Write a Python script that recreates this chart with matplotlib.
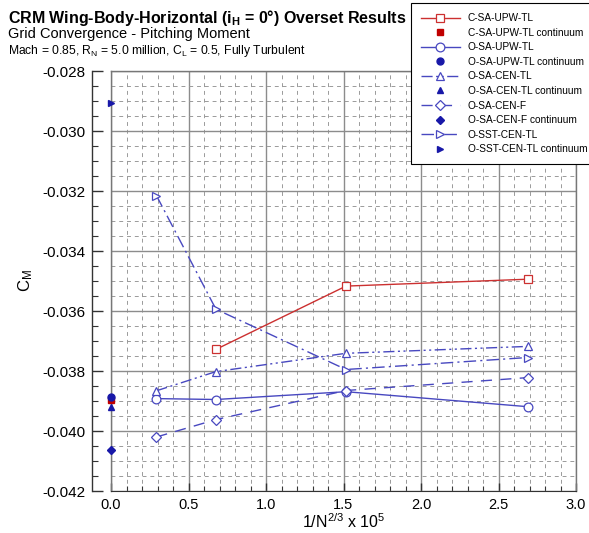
import matplotlib
matplotlib.use("Agg")
import matplotlib.pyplot as plt
from matplotlib.ticker import MultipleLocator, FormatStrFormatter

plt.rcParams['font.family'] = ['Liberation Sans', 'DejaVu Sans']
plt.rcParams['mathtext.fontset'] = 'custom'
plt.rcParams['mathtext.rm'] = 'Liberation Sans'
plt.rcParams['mathtext.it'] = 'Liberation Sans:italic'
plt.rcParams['mathtext.bf'] = 'Liberation Sans:bold'

# ---- data ----
x_c = [0.677, 1.516, 2.69]
y_c_sa_upw_tl = [-0.03728, -0.03517, -0.03494]
x_o = [0.293, 0.677, 1.516, 2.69]
y_o_sa_upw_tl = [-0.03892, -0.03895, -0.03869, -0.03919]
y_o_sa_cen_tl = [-0.03866, -0.03802, -0.03741, -0.03718]
y_o_sa_cen_f = [-0.04020, -0.03962, -0.03865, -0.03822]
y_o_sst_cen_tl = [-0.03215, -0.03594, -0.03795, -0.03755]

cont_c_sa_upw_tl = -0.03898
cont_o_sa_upw_tl = -0.03888
cont_o_sa_cen_tl = -0.03921
cont_o_sa_cen_f = -0.04063
cont_o_sst_cen_tl = -0.02907

labels = ["C-SA-UPW-TL", "C-SA-UPW-TL continuum",
          "O-SA-UPW-TL", "O-SA-UPW-TL continuum",
          "O-SA-CEN-TL", "O-SA-CEN-TL continuum",
          "O-SA-CEN-F", "O-SA-CEN-F continuum",
          "O-SST-CEN-TL", "O-SST-CEN-TL continuum"]

RED = "#cc3030"
RED_F = "#c00000"
BLUE = "#4848c0"
BLUE_F = "#1818a8"

W, H = 589, 533
fig = plt.figure(figsize=(W/100, H/100), dpi=100)
bottom = 1 - 491/H
height = (491 - 71)/H
ax = fig.add_axes([111/W, bottom, (576-111)/W, height])
ax_y = fig.add_axes([92/W, bottom, 0.0001, height], sharey=ax)

ms_open = 6.3
ms_fill = 5.0
handles = []
h, = ax.plot(x_c, y_c_sa_upw_tl, color=RED, lw=1.0, marker='s', ms=ms_open,
             mfc='white', mec=RED, mew=0.9, clip_on=False, zorder=5)
handles.append(h)
h, = ax.plot([0], [cont_c_sa_upw_tl], ls='none', marker='s', ms=ms_fill,
             color=RED_F, clip_on=False, zorder=6)
handles.append(h)
h, = ax.plot(x_o, y_o_sa_upw_tl, color=BLUE, lw=1.0, marker='o', ms=ms_open,
             mfc='white', mec=BLUE, mew=0.9, clip_on=False, zorder=5)
handles.append(h)
h, = ax.plot([0], [cont_o_sa_upw_tl], ls='none', marker='o', ms=ms_fill,
             color=BLUE_F, clip_on=False, zorder=7)
handles.append(h)
h, = ax.plot(x_o, y_o_sa_cen_tl, color=BLUE, lw=1.0, ls=(0, (8, 2.5, 1.5, 2.5, 1.5, 2.5)),
             marker='^', ms=ms_open, mfc='white', mec=BLUE, mew=0.9, clip_on=False, zorder=5)
handles.append(h)
h, = ax.plot([0], [cont_o_sa_cen_tl], ls='none', marker='^', ms=ms_fill,
             color=BLUE_F, clip_on=False, zorder=6)
handles.append(h)
h, = ax.plot(x_o, y_o_sa_cen_f, color=BLUE, lw=1.0, ls=(0, (8, 6)),
             marker='D', ms=ms_open*0.85, mfc='white', mec=BLUE, mew=0.9, clip_on=False, zorder=5)
handles.append(h)
h, = ax.plot([0], [cont_o_sa_cen_f], ls='none', marker='D', ms=ms_fill*0.9,
             color=BLUE_F, clip_on=False, zorder=6)
handles.append(h)
h, = ax.plot(x_o, y_o_sst_cen_tl, color=BLUE, lw=1.0, ls=(0, (9, 3, 1.5, 3)),
             marker='>', ms=ms_open, mfc='white', mec=BLUE, mew=0.9, clip_on=False, zorder=5)
handles.append(h)
h, = ax.plot([0], [cont_o_sst_cen_tl], ls='none', marker='>', ms=ms_fill,
             color=BLUE_F, clip_on=False, zorder=6)
handles.append(h)

ax.set_xlim(0, 3.0)
ax.set_ylim(-0.042, -0.028)
ax.xaxis.set_major_locator(MultipleLocator(0.5))
ax.xaxis.set_minor_locator(MultipleLocator(0.1))
ax.yaxis.set_major_locator(MultipleLocator(0.002))
ax.yaxis.set_minor_locator(MultipleLocator(0.0005))
ax.xaxis.set_major_formatter(FormatStrFormatter('%.1f'))
ax.yaxis.set_major_formatter(FormatStrFormatter('%.3f'))

ax.grid(which='major', color='#8c8c8c', lw=1.0, ls='-', zorder=1)
ax.grid(which='minor', color='#9a9a9a', lw=0.7, ls=(0, (4, 4)), zorder=1)
ax.set_axisbelow(True)

ax.spines['bottom'].set_color('#333333')
for s in ('top', 'right', 'left'):
    ax.spines[s].set_color('#777777')
    ax.spines[s].set_linewidth(1.0)

ax.tick_params(axis='both', which='both', direction='in', colors='#333333',
               labelcolor='black')
ax.tick_params(axis='y', which='both', left=False, labelleft=False)
ax.tick_params(axis='x', which='major', length=6, width=1.0, pad=5, labelsize=10.5)
ax.tick_params(axis='x', which='minor', length=3.5, width=0.8)

# offset y axis (Tecplot-style)
ax_y.patch.set_visible(False)
for s in ('top', 'right', 'bottom'):
    ax_y.spines[s].set_visible(False)
ax_y.spines['left'].set_color('#333333')
ax_y.spines['left'].set_linewidth(1.0)
ax_y.xaxis.set_visible(False)
ax_y.tick_params(axis='y', which='both', direction='in', colors='#333333',
                 labelcolor='black', right=False)
ax_y.tick_params(axis='y', which='major', length=8, width=1.0, pad=5, labelsize=11)
ax_y.tick_params(axis='y', which='minor', length=4.5, width=0.8)
ax_y.set_ylabel("C$_\\mathregular{M}$", fontsize=12, labelpad=5)

ax.set_xlabel("1/N$^\\mathregular{2/3}$ x 10$^\\mathregular{5}$", fontsize=11.5, labelpad=0)

fig.text(8/W, 1-23/H, "CRM Wing-Body-Horizontal (i$_\\mathbf{H}$ = 0°) Overset Results",
         fontsize=11.5, fontweight='bold', ha='left', va='baseline')
fig.text(8/W, 1-38/H, "Grid Convergence - Pitching Moment",
         fontsize=10.5, ha='left', va='baseline')
fig.text(8/W, 1-54/H, "Mach = 0.85, R$_\\mathregular{N}$ = 5.0 million, C$_\\mathregular{L}$ = 0.5, Fully Turbulent",
         fontsize=8.7, ha='left', va='baseline')

leg = fig.legend(handles, labels, loc='upper left',
                 bbox_to_anchor=(411/W, 1-3/H), bbox_transform=fig.transFigure,
                 borderaxespad=0, fontsize=7.3, handlelength=3.8, handletextpad=0.8,
                 labelspacing=0.45, borderpad=1.0, frameon=True, fancybox=False,
                 framealpha=1, edgecolor='black')
leg.get_frame().set_linewidth(0.8)
leg.set_zorder(20)

fig.savefig("out.png", dpi=100)
